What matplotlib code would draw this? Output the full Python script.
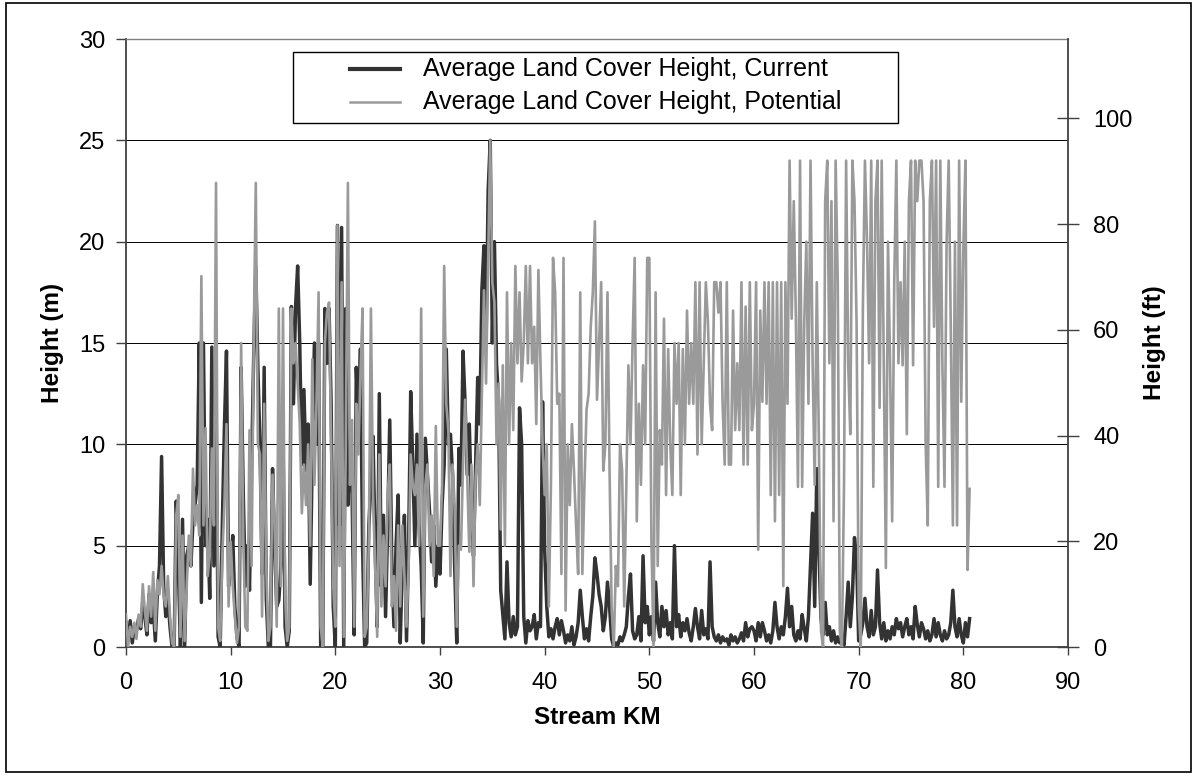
import numpy as np
import matplotlib
matplotlib.use("Agg")
import matplotlib.pyplot as plt
from matplotlib.lines import Line2D
from matplotlib.patches import Rectangle

plt.rcParams['font.family'] = ['Liberation Sans', 'DejaVu Sans']

# ---------------- data ----------------
stream_km = np.round(np.arange(0, 80.61, 0.2), 1)

current_m = [
    # 0 - 9.8 km
    1.2, 0.3, 1.3, 0.2, 1.0, 0.8, 1.4, 0.9, 2.2, 1.5,
    0.6, 2.6, 1.2, 2.0, 0.3, 2.7, 4.0, 9.4, 3.0, 1.5,
    2.5, 1.0, 0.0, 0.0, 7.2, 4.0, 0.0, 6.3, 0.0, 4.5,
    5.0, 4.0, 6.2, 7.0, 8.0, 15.0, 2.2, 15.0, 5.0, 6.3,
    2.4, 14.8, 4.0, 12.5, 0.5, 0.0, 6.0, 10.8, 14.6, 3.0,
    # 10 - 19.8 km
    4.0, 5.5, 2.0, 0.5, 0.0, 13.8, 7.7, 3.0, 5.0, 2.8,
    9.0, 14.4, 18.8, 13.8, 10.0, 3.6, 13.8, 2.4, 0.0, 0.0,
    8.8, 5.0, 2.0, 2.3, 4.0, 10.4, 1.0, 0.0, 0.8, 16.8,
    12.0, 16.8, 18.8, 15.0, 9.0, 12.7, 8.7, 11.0, 3.1, 9.5,
    15.0, 10.0, 15.0, 0.0, 0.0, 16.7, 14.0, 16.7, 12.0, 2.0,
    # 20 - 29.8 km
    0.0, 20.8, 6.0, 20.7, 0.0, 16.7, 7.0, 10.0, 7.5, 0.6,
    13.8, 11.0, 14.7, 5.0, 0.0, 0.2, 6.0, 8.0, 10.4, 5.0,
    1.0, 12.5, 3.0, 6.5, 1.5, 6.0, 11.2, 4.0, 1.0, 5.0,
    7.5, 0.2, 4.0, 6.5, 0.3, 5.0, 12.6, 9.0, 5.0, 10.5,
    6.0, 4.0, 0.2, 10.3, 8.5, 6.7, 4.2, 6.0, 3.0, 5.0,
    # 30 - 39.8 km
    3.6, 7.0, 9.0, 14.7, 10.0, 10.5, 8.5, 4.0, 0.2, 9.8,
    8.0, 14.6, 12.0, 8.5, 11.0, 7.0, 4.5, 9.0, 13.3, 11.0,
    17.6, 19.8, 15.0, 22.5, 25.0, 15.0, 20.0, 14.0, 12.1, 2.8,
    1.6, 0.4, 4.2, 1.2, 0.5, 1.5, 0.6, 1.0, 11.8, 10.0,
    1.5, 0.2, 1.3, 0.8, 1.0, 1.6, 0.4, 1.2, 1.0, 12.1,
    # 40 - 49.8 km
    4.8, 2.0, 0.5, 0.9, 0.4, 1.0, 1.4, 0.6, 1.3, 0.8,
    0.2, 0.6, 0.3, 1.0, 0.1, 0.5, 1.2, 2.8, 1.5, 0.4,
    0.9, 0.3, 1.5, 2.5, 4.4, 3.6, 2.6, 2.0, 0.8, 1.5,
    3.2, 2.0, 0.4, 0.0, 0.2, 0.1, 0.5, 0.3, 0.6, 1.0,
    2.5, 3.6, 0.8, 0.4, 0.6, 1.5, 0.3, 4.5, 1.2, 2.0,
    # 50 - 59.8 km
    0.6, 1.5, 0.3, 3.2, 1.2, 0.5, 2.0, 1.0, 1.8, 0.6,
    1.2, 0.4, 5.0, 1.0, 1.6, 0.5, 1.2, 0.8, 1.4, 0.7,
    0.3, 1.0, 1.9, 1.0, 0.4, 1.8, 0.6, 0.9, 0.4, 4.2,
    1.0, 0.5, 0.3, 0.6, 0.2, 0.5, 0.3, 0.4, 0.1, 0.6,
    0.3, 0.5, 0.2, 0.4, 0.7, 0.3, 1.2, 0.5, 0.9, 1.0,
    # 60 - 69.8 km
    0.8, 0.3, 1.2, 0.5, 1.2, 0.8, 0.3, 0.6, 0.2, 0.8,
    2.2, 1.0, 0.4, 1.0, 0.6, 1.5, 2.9, 1.0, 2.0, 0.6,
    0.3, 0.8, 0.4, 1.6, 0.9, 0.3, 1.5, 4.0, 6.6, 2.0,
    8.8, 4.8, 1.4, 0.6, 2.2, 0.6, 1.0, 0.3, 0.8, 0.2,
    0.5, 0.2, 0.4, 0.1, 1.5, 3.2, 1.0, 2.5, 5.4, 4.4,
    # 70 - 80.6 km
    0.3, 0.6, 1.2, 2.4, 1.0, 0.5, 1.8, 0.6, 1.0, 3.8,
    1.2, 0.4, 1.2, 0.3, 0.8, 0.4, 1.0, 0.6, 1.4, 0.9,
    1.2, 0.5, 1.0, 1.4, 0.6, 1.0, 0.4, 2.0, 1.1, 0.5,
    1.2, 0.9, 0.4, 0.8, 0.3, 0.6, 1.4, 0.5, 1.2, 0.6,
    0.3, 0.8, 0.4, 0.6, 1.2, 2.8, 1.0, 0.5, 1.4, 0.6,
    0.2, 1.2, 0.5, 1.4,
]

potential_m = [
    # 0 - 9.8 km
    1.6, 0.0, 1.0, 0.5, 1.2, 0.4, 1.6, 1.0, 3.1, 1.8,
    0.8, 3.0, 1.5, 3.7, 0.8, 3.3, 2.6, 4.0, 2.5, 2.0,
    3.5, 1.5, 0.2, 0.0, 6.5, 7.5, 0.5, 5.5, 0.3, 3.0,
    5.5, 4.0, 8.8, 6.0, 7.0, 5.5, 18.3, 6.0, 10.8, 3.5,
    4.5, 9.8, 6.0, 22.9, 1.0, 0.3, 4.5, 7.0, 11.0, 2.0,
    # 10 - 19.8 km
    5.2, 3.0, 1.5, 0.2, 1.0, 15.0, 5.5, 1.0, 0.8, 10.7,
    4.0, 15.0, 22.9, 10.0, 9.5, 1.5, 12.0, 4.0, 0.3, 1.0,
    8.5, 6.0, 1.0, 16.7, 3.0, 16.7, 2.5, 0.3, 1.0, 16.7,
    14.0, 15.0, 13.0, 11.0, 6.6, 9.0, 7.0, 10.0, 5.0, 14.2,
    8.0, 12.0, 17.5, 1.0, 0.0, 15.0, 16.5, 17.0, 10.0, 3.0,
    # 20 - 29.8 km
    1.0, 20.8, 4.0, 18.0, 0.5, 10.0, 22.9, 8.0, 11.2, 1.0,
    12.0, 9.5, 13.5, 16.7, 0.5, 1.0, 5.0, 16.7, 7.5, 4.0,
    0.5, 9.5, 2.0, 5.5, 3.0, 7.5, 9.0, 2.0, 3.5, 0.8,
    6.0, 2.0, 6.0, 3.5, 1.0, 4.0, 9.5, 8.0, 7.5, 9.0,
    5.0, 16.7, 1.5, 8.0, 9.0, 5.0, 6.5, 3.5, 10.9, 5.0,
    # 30 - 39.8 km
    5.0, 8.0, 18.8, 12.0, 10.7, 3.5, 9.0, 7.0, 1.0, 5.0,
    4.8, 9.0, 12.2, 8.5, 4.7, 9.0, 3.0, 8.3, 10.0, 7.0,
    12.5, 17.6, 13.0, 19.0, 25.0, 18.0, 17.0, 10.0, 13.0, 5.8,
    13.9, 5.0, 17.5, 10.0, 15.0, 10.7, 18.8, 14.0, 17.5, 13.1,
    15.0, 18.8, 14.0, 18.8, 14.0, 15.8, 11.0, 18.6, 14.0, 10.0,
    # 40 - 49.8 km
    7.5, 10.0, 2.0, 8.0, 19.2, 17.5, 12.0, 12.5, 3.6, 19.2,
    1.8, 10.0, 7.0, 11.0, 8.7, 6.0, 3.6, 17.5, 3.6, 8.0,
    11.7, 12.5, 15.8, 17.5, 21.0, 12.2, 15.0, 18.0, 8.7, 10.0,
    17.5, 8.7, 1.9, 0.0, 4.0, 3.0, 10.0, 8.7, 2.0, 8.0,
    13.9, 10.0, 15.0, 19.2, 6.2, 12.0, 8.0, 13.9, 10.0, 19.2,
    # 50 - 59.8 km
    19.2, 5.2, 0.0, 17.5, 4.0, 10.7, 9.0, 16.2, 7.5, 14.7,
    10.0, 7.5, 15.0, 12.0, 15.0, 7.5, 14.7, 10.0, 16.6, 12.0,
    15.0, 12.0, 18.0, 9.5, 18.0, 10.0, 14.0, 18.0, 16.0, 12.0,
    10.7, 18.0, 18.0, 16.5, 18.0, 12.0, 9.0, 18.0, 9.0, 9.0,
    16.6, 10.7, 14.0, 10.7, 18.0, 9.0, 16.8, 9.0, 18.0, 10.7,
    # 60 - 69.8 km
    12.0, 18.0, 4.8, 16.6, 12.1, 18.0, 12.0, 18.0, 7.5, 18.0,
    6.2, 18.0, 7.5, 18.0, 3.0, 18.0, 12.0, 24.0, 16.2, 22.0,
    16.2, 7.9, 24.0, 7.9, 16.0, 20.0, 12.0, 24.0, 14.0, 8.0,
    18.0, 10.0, 0.8, 0.0, 22.0, 24.0, 14.0, 22.0, 6.2, 24.0,
    18.0, 0.8, 0.0, 8.0, 24.0, 14.0, 10.5, 24.0, 22.0, 16.0,
    # 70 - 80.6 km
    2.0, 0.0, 16.6, 24.0, 20.0, 14.0, 24.0, 7.9, 22.0, 24.0,
    11.8, 24.0, 13.9, 3.9, 20.0, 14.0, 6.2, 18.0, 24.0, 14.0,
    18.0, 13.9, 20.0, 10.5, 22.0, 24.0, 13.9, 24.0, 22.0, 24.0,
    24.0, 22.0, 10.0, 6.0, 22.0, 24.0, 15.8, 24.0, 7.9, 24.0,
    13.9, 7.9, 20.0, 24.0, 15.8, 6.0, 20.0, 6.0, 24.0, 12.1,
    19.7, 24.0, 3.8, 7.8,
]

series_labels = ["Average Land Cover Height, Current",
                 "Average Land Cover Height, Potential"]
x_ticks = list(range(0, 91, 10))
y_ticks_m = list(range(0, 31, 5))
y_ticks_ft = list(range(0, 101, 20))

assert len(current_m) == len(stream_km) == len(potential_m)

# ---------------- figure ----------------
W, H = 1196, 776
fig = plt.figure(figsize=(W / 100, H / 100), dpi=100)

def fx(px):
    return px / W

def fy(py):
    return 1 - py / H

# outer frame
fig.add_artist(Rectangle((fx(6), fy(772)), fx(1191) - fx(6), fy(3) - fy(772),
                         transform=fig.transFigure, fill=False,
                         edgecolor='black', lw=1.2))

ax = fig.add_axes([fx(126), fy(647), fx(1068) - fx(126), fy(39) - fy(647)])

c_cur = '#333333'
c_pot = '#9a9a9a'
ax.plot(stream_km, current_m, color=c_cur, lw=2.5, zorder=3)
ax.plot(stream_km, potential_m, color=c_pot, lw=1.9, zorder=4)

ax.set_xlim(0, 90)
ax.set_ylim(0, 30)
ax.set_xticks(x_ticks)
ax.set_yticks(y_ticks_m)
ax.grid(axis='y', color='black', lw=0.7, zorder=1)
ax.set_axisbelow(True)

ax.spines['top'].set_color('#808080')
ax.spines['top'].set_linewidth(1.0)
ax.spines['right'].set_visible(False)
for s in ('left', 'bottom'):
    ax.spines[s].set_color('#404040')
    ax.spines[s].set_linewidth(1.3)

ax.tick_params(axis='y', direction='out', length=7, width=1, labelsize=17,
               pad=8, color='#404040')
ax.tick_params(axis='x', direction='out', length=6, width=1, labelsize=17,
               pad=12, color='#404040')

ax.set_xlabel('Stream KM', fontsize=17.5, fontweight='bold')
ax.set_ylabel('Height (m)', fontsize=17.5, fontweight='bold')
ax.xaxis.set_label_coords(0.5, (647 - 706) / 608)
ax.yaxis.set_label_coords((64 - 126) / 942, 0.5)

ax2 = ax.twinx()
ax2.set_ylim(0, 115)
ax2.set_yticks(y_ticks_ft)
for s in ('left', 'top', 'bottom'):
    ax2.spines[s].set_visible(False)
ax2.spines['right'].set_color('#404040')
ax2.spines['right'].set_linewidth(1.3)
ax2.tick_params(axis='y', direction='inout', length=16, width=1,
                labelsize=17, pad=10, color='#404040')
ax2.set_ylabel('Height (ft)', fontsize=17.5, fontweight='bold', rotation=90)
ax2.yaxis.set_label_coords((1143 - 126) / 942, 0.5)

# legend box (drawn in figure pixel space)
fig.add_artist(Rectangle((fx(293), fy(123)), fx(898) - fx(293), fy(52) - fy(123),
                         transform=fig.transFigure, facecolor='white',
                         edgecolor='black', lw=1.0, zorder=10))
for (ly, col, lw, lab) in [(69, c_cur, 3.0, series_labels[0]),
                           (102, c_pot, 1.8, series_labels[1])]:
    fig.add_artist(Line2D([fx(350), fx(400)], [fy(ly), fy(ly)],
                          transform=fig.transFigure, color=col, lw=lw, zorder=11))
    fig.text(fx(423), fy(ly), lab, fontsize=18, va='center', ha='left',
             zorder=11)

fig.savefig('out.png', dpi=100)
